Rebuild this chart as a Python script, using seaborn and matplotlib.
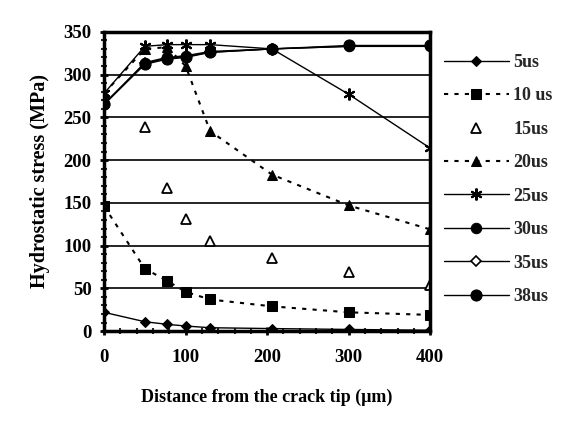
import matplotlib
matplotlib.use("Agg")
import matplotlib.pyplot as plt
import seaborn as sns
import pandas as pd
from matplotlib.ticker import MultipleLocator

x_um = [0, 50, 77, 100, 130, 206, 300, 400]
x_15 = [50, 77, 100, 130, 206, 300, 400]

s5 = [22, 11, 8, 6, 4, 3, 2, 1]
s10 = [146, 73, 59, 46, 37, 29, 22, 19]
s15 = [239, 167, 131, 105, 86, 69, 54]
s20 = [278, 330, 332, 310, 234, 183, 147, 119]
s25 = [278, 333, 335, 335, 335, 330, 277, 214]
s30 = [265, 314, 320, 322, 327, 330, 333, 333]
s35 = [266, 313, 319, 321, 326, 330, 333, 333]
s38 = [265, 312, 318, 320, 326, 330, 334, 334]

labels = ["5us", "10 us", "15us", "20us", "25us", "30us", "35us", "38us"]
y_ticks = [0, 50, 100, 150, 200, 250, 300, 350]
x_ticks = [0, 100, 200, 300, 400]

sns.set_theme(style="white")
plt.rcParams['font.family'] = ['Liberation Serif', 'DejaVu Serif']

fig = plt.figure(figsize=(5.72, 4.24), dpi=100)
ax = fig.add_axes([0.182, 0.219, 0.570, 0.706])

series = [
    (x_um, s5, labels[0], dict(marker="D", markersize=5, linestyle="-", linewidth=1.0, markerfacecolor="black")),
    (x_um, s10, labels[1], dict(marker="s", markersize=7, linestyle=(0, (2, 3)), linewidth=1.5, markerfacecolor="black")),
    (x_15, s15, labels[2], dict(marker="^", markersize=6.5, linestyle="None", linewidth=0.6, markerfacecolor="white", markeredgewidth=1.3)),
    (x_um, s20, labels[3], dict(marker="^", markersize=7.5, linestyle=(0, (2, 3)), linewidth=1.5, markerfacecolor="black")),
    (x_um, s25, labels[4], dict(marker=(6, 2, 0), markersize=8.5, linestyle="-", linewidth=1.0, markeredgewidth=1.5)),
    (x_um, s30, labels[5], dict(marker="o", markersize=7.5, linestyle="-", linewidth=1.0, markerfacecolor="black")),
    (x_um, s35, labels[6], dict(marker="D", markersize=5, linestyle="-", linewidth=1.0, markerfacecolor="white", markeredgewidth=1.2)),
    (x_um, s38, labels[7], dict(marker="o", markersize=8, linestyle="-", linewidth=1.0, markerfacecolor="black")),
]

for xs, ys, lab, kw in series:
    df = pd.DataFrame({"x": xs, "y": ys})
    sns.lineplot(data=df, x="x", y="y", ax=ax, color="black",
                 markeredgecolor="black", label=lab, **kw)

ax.set_xlim(0, 400)
ax.set_ylim(0, 350)
ax.set_xticks(x_ticks)
ax.set_yticks(y_ticks)
ax.yaxis.set_minor_locator(MultipleLocator(10))
ax.xaxis.set_minor_locator(MultipleLocator(20))
ax.yaxis.grid(True, color="black", linewidth=1.2)
ax.xaxis.grid(False)
ax.set_axisbelow(True)
for sp in ax.spines.values():
    sp.set_color("black")
    sp.set_linewidth(2.5)
ax.tick_params(axis="both", which="major", direction="inout", length=6, width=2,
               labelsize=13.5, colors="black", left=True, bottom=True)
ax.tick_params(axis="x", which="major", pad=10)
ax.tick_params(axis="y", which="major", pad=6)
ax.tick_params(axis="both", which="minor", direction="inout", length=4, width=1.5,
               left=True, bottom=True)
for t in ax.get_xticklabels() + ax.get_yticklabels():
    t.set_fontweight("bold")

ax.set_xlabel("Distance from the crack tip (\u03bcm)", fontsize=13, fontweight="bold", labelpad=16, color="black")
ax.set_ylabel("Hydrostatic stress (MPa)", fontsize=14.5, fontweight="bold", labelpad=10, color="black")

leg = ax.legend(loc="upper left", bbox_to_anchor=(1.02, 0.95), frameon=False,
                handlelength=3.6, labelspacing=0.91, fontsize=13, borderaxespad=0,
                handletextpad=0.25)
for t in leg.get_texts():
    t.set_fontweight("bold")

fig.savefig("out.png", dpi=100)
